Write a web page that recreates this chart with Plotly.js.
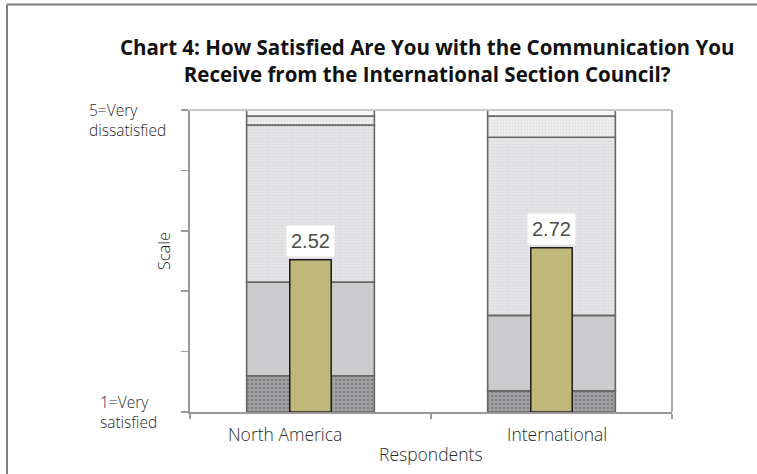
<!DOCTYPE html>
<html>
<head>
<meta charset="utf-8">
<script src="https://cdn.plot.ly/plotly-3.0.1.min.js"></script>
<style>
  html, body { margin: 0; padding: 0; background: #ffffff; }
  #chart { width: 757px; height: 474px; }
</style>
</head>
<body>
<div id="chart"></div>
<script>
// Respondent groups and their mean satisfaction score (1 = very satisfied, 5 = very dissatisfied)
const categories = ['North America', 'International'];
const meanScores = [2.52, 2.72];

// Share of respondents (%) giving each rating, lowest rating first
const ratingLevels = ['1', '2', '3', '4', '5'];
const northAmericaShares = [12, 31, 52, 3, 2];
const internationalShares = [7, 25, 59, 7, 2];

// Axis end labels
const topScaleLabel = '5=Very<br>dissatisfied';
const bottomScaleLabel = '1=Very<br>satisfied';

// Background stack: each group's distribution stretched over the 0–5 scale
const scaleMax = 5;
const shareRows = [northAmericaShares, internationalShares];

const segmentStyles = [
  { color: '#a2a2a4', pattern: { shape: '.', bgcolor: '#a2a2a4', fgcolor: '#7e7e80', size: 4, solidity: 0.3, fillmode: 'replace' } },
  { color: '#cbcbcd', pattern: { shape: '' } },
  { color: '#e3e3e5', pattern: { shape: '.', bgcolor: '#e5e5e7', fgcolor: '#d8d8da', size: 3, solidity: 0.25, fillmode: 'replace' } },
  { color: '#efeff0', pattern: { shape: '.', bgcolor: '#f0f0f1', fgcolor: '#dedede', size: 3, solidity: 0.3, fillmode: 'replace' } },
  { color: '#f9f9f9', pattern: { shape: '' } }
];

const traces = [];
const running = categories.map(() => 0);
ratingLevels.forEach((level, k) => {
  const heights = shareRows.map(row => row[k] / 100 * scaleMax);
  const bases = running.slice();
  heights.forEach((h, i) => { running[i] += h; });
  traces.push({
    type: 'bar',
    name: 'Rating ' + level,
    x: categories,
    y: heights,
    base: bases,
    width: 0.53,
    marker: {
      color: segmentStyles[k].color,
      pattern: segmentStyles[k].pattern,
      line: { color: '#666666', width: 1.6 }
    },
    hoverinfo: 'skip',
    showlegend: false
  });
});

// Mean score bars
traces.push({
  type: 'bar',
  name: 'Mean score',
  x: categories,
  y: meanScores,
  width: 0.172,
  marker: { color: '#c0b77a', line: { color: '#1c1c1c', width: 1.5 } },
  showlegend: false
});

const textFamily = '"Open Sans", Lato, sans-serif';
const axisFont = { family: textFamily, size: 17.5, color: '#2a2a2a', weight: 300 };
const endFont = { family: textFamily, size: 15.5, color: '#2a2a2a', weight: 300 };

const annotations = [];
// Value labels sitting just above each mean bar
categories.forEach((c, i) => {
  annotations.push({
    x: c, y: meanScores[i], xref: 'x', yref: 'y',
    text: meanScores[i].toFixed(2),
    showarrow: false, yanchor: 'bottom', yshift: 3,
    bgcolor: '#ffffff', borderpad: 4,
    font: { family: '"Liberation Sans", Arial, sans-serif', size: 20, color: '#4d4d4d' }
  });
});
// Category labels under the axis
const catShift = [-26, 5];
categories.forEach((c, i) => {
  annotations.push({
    x: c, xref: 'x', y: -0.073, yref: 'paper',
    text: c, showarrow: false, yanchor: 'middle', xshift: catShift[i],
    font: axisFont
  });
});
annotations.push(
  { x: 0.5, xref: 'paper', y: -0.139, yref: 'paper', text: 'Respondents',
    showarrow: false, yanchor: 'middle', font: axisFont },
  { x: -0.056, xref: 'paper', y: 2.66, yref: 'y', text: 'Scale', textangle: -90,
    showarrow: false, xanchor: 'center', yanchor: 'middle',
    font: { family: textFamily, size: 16.5, color: '#222222', weight: 300 } },
  { x: -0.0456, xref: 'paper', y: scaleMax, yref: 'y', text: topScaleLabel,
    showarrow: false, xanchor: 'right', yanchor: 'middle', align: 'left', yshift: -10,
    font: endFont },
  { x: -0.064, xref: 'paper', y: 0, yref: 'y', text: bottomScaleLabel,
    showarrow: false, xanchor: 'right', yanchor: 'middle', align: 'left', yshift: 0,
    font: endFont }
);

const layout = {
  width: 757,
  height: 474,
  margin: { l: 190, r: 85, t: 110, b: 62 },
  paper_bgcolor: '#ffffff',
  plot_bgcolor: '#ffffff',
  barmode: 'overlay',
  title: {
    text: 'Chart 4: How Satisfied Are You with the Communication You<br>Receive from the International Section Council?',
    x: 0.492, xref: 'paper', xanchor: 'center',
    y: 0.883, yref: 'container', yanchor: 'middle',
    font: { family: textFamily, size: 20.5, color: '#111111', weight: 'bold', lineposition: 'none' }
  },
  xaxis: {
    type: 'category',
    range: [-0.5, 1.5],
    showline: true, linecolor: '#9a9a9a', linewidth: 2,
    ticks: 'outside', tickson: 'boundaries', ticklen: 5, tickcolor: '#9a9a9a', tickwidth: 1.5,
    showticklabels: false, showgrid: false, zeroline: false, fixedrange: true
  },
  yaxis: {
    range: [0, scaleMax],
    dtick: 1,
    showline: true, linecolor: '#9a9a9a', linewidth: 2,
    ticks: 'outside', ticklen: 7, tickcolor: '#9a9a9a', tickwidth: 1.5,
    showticklabels: false, showgrid: false, zeroline: false, fixedrange: true
  },
  annotations: annotations,
  shapes: [
    // plot area top and right edges
    { type: 'line', xref: 'paper', yref: 'paper', x0: 0, x1: 1, y0: 1, y1: 1,
      line: { color: '#c8c8c8', width: 2 } },
    { type: 'line', xref: 'paper', yref: 'paper', x0: 1, x1: 1, y0: 0, y1: 1,
      line: { color: '#ababab', width: 2 } },
    // page frame, top and left
    { type: 'line', xref: 'paper', yref: 'paper', x0: -0.3797, x1: 1.25, y0: 1.349, y1: 1.349,
      line: { color: '#7d7d7d', width: 2 } },
    { type: 'line', xref: 'paper', yref: 'paper', x0: -0.3797, x1: -0.3797, y0: -0.3, y1: 1.349,
      line: { color: '#7d7d7d', width: 2 } }
  ]
};

Plotly.newPlot('chart', traces, layout, { displayModeBar: false, staticPlot: true });
</script>
</body>
</html>
